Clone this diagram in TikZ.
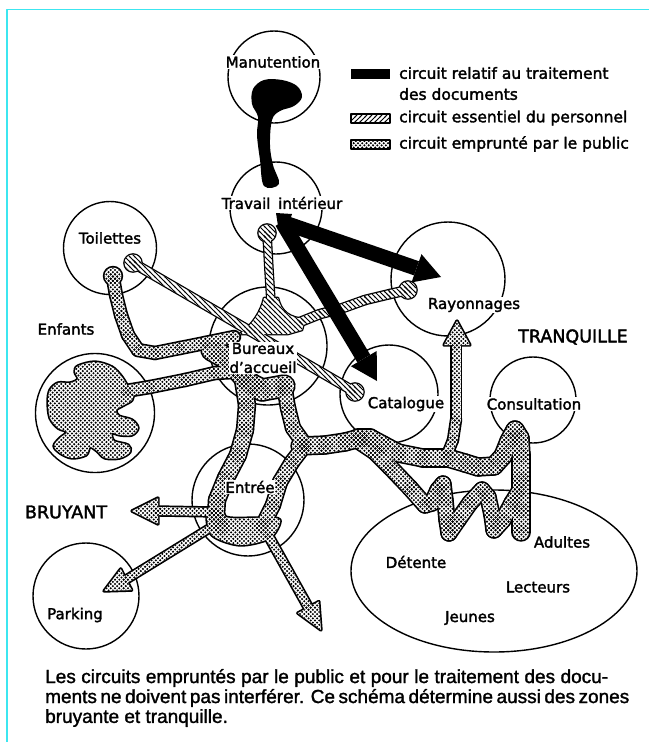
\documentclass[tikz,border=0pt]{standalone}
\usepackage{fontspec}
\setmainfont{DejaVu Sans}[FakeBold=2]
\newfontfamily\capfont{Liberation Sans}[FakeBold=1.5]
\usetikzlibrary{patterns,shapes.geometric,calc}
\definecolor{bordercol}{RGB}{60,230,240}

\pgfdeclarepatternformonly{pubdots}{\pgfqpoint{-1.3pt}{-1.3pt}}{\pgfqpoint{5.6pt}{5.6pt}}{\pgfqpoint{4.3pt}{4.3pt}}{%
 \pgfpathcircle{\pgfqpoint{1.075pt}{1.075pt}}{1.15pt}%
 \pgfpathcircle{\pgfqpoint{3.225pt}{3.225pt}}{1.15pt}%
 \pgfusepath{fill}}
\pgfdeclarepatternformonly{hatchNE}{\pgfqpoint{-1pt}{-1pt}}{\pgfqpoint{6pt}{6pt}}{\pgfqpoint{5pt}{5pt}}{%
 \pgfsetlinewidth{1pt}%
 \pgfpathmoveto{\pgfqpoint{-1pt}{-1pt}}\pgfpathlineto{\pgfqpoint{6pt}{6pt}}\pgfusepath{stroke}}
\pgfdeclarepatternformonly{hatchNW}{\pgfqpoint{-1pt}{-1pt}}{\pgfqpoint{6pt}{6pt}}{\pgfqpoint{5pt}{5pt}}{%
 \pgfsetlinewidth{0.9pt}%
 \pgfpathmoveto{\pgfqpoint{-1pt}{6pt}}\pgfpathlineto{\pgfqpoint{6pt}{-1pt}}\pgfusepath{stroke}}

\newcount\tubemode
\def\tubepattern{pubdots}
\def\outw{3.4pt}
% a tube of width #1 along polyline #2 (x/y list), drawn in pass \tubemode
\newcommand\tube[2]{%
 \pgfmathsetmacro\hw{#1/2}%
 \edef\hwd{\hw pt}%
 \foreach \x/\y [count=\i, remember=\x as \px (initially 0), remember=\y as \py (initially 0)] in {#2}{%
   \ifcase\tubemode
     \ifnum\i>1 \draw[line width=#1pt+\outw] (\px,\py) -- (\x,\y);\fi
   \or
     \ifnum\i>1 \draw[white, line width=#1pt] (\px,\py) -- (\x,\y);\fi
   \or
     \fill[pattern=\tubepattern] (\x,\y) circle[radius=\hwd];
     \ifnum\i>1 \fill[pattern=\tubepattern] ($(\px,\py)!\hwd!90:(\x,\y)$) -- ($(\px,\py)!\hwd!-90:(\x,\y)$) -- ($(\x,\y)!\hwd!90:(\px,\py)$) -- ($(\x,\y)!\hwd!-90:(\px,\py)$) -- cycle;\fi
   \fi}}
% a closed shape #1, drawn in pass \tubemode
\newcommand\blob[1]{%
 \ifcase\tubemode
  \draw[line width=\outw] #1;
 \or
  \fill[white] #1;
 \or
  \fill[pattern=\tubepattern] #1;
 \fi}

\newcommand\PubAll{%
 \tube{11}{113/278, 116/295, 121/315, 128/335, 138/350, 155/353, 180/348, 205/343, 234/337}
 \tube{11}{126/391, 150/387, 185/380, 215/373, 235/372}
 \tube{20}{212/350, 228/359, 240/372, 250/384, 262/390, 284/386}
 \tube{15}{243/380, 247/405, 245/430, 238/455, 226/478, 217/500, 216/515, 222/527}
 \tube{13}{284/385, 288/408, 293/428, 305/445}
 \tube{13}{305/445, 292/462, 280/482, 273/505, 262/527}
 \tube{16}{300/446, 325/445, 345/442, 360/438}
 \tube{16}{358/438, 370/438, 383/445, 398/453, 423/458, 448/458, 465/463, 478/467, 494/466, 503/456, 509/441, 515/430, 520/438, 521/455, 521/480, 521/510, 521/532}
 \tube{9}{447/455, 453/440, 456/420, 456/345}
 \tube{14}{360/442, 375/452, 390/467, 410/488, 425/505, 432/503, 438/490, 443/484, 445/500, 447/520, 449/533, 458/520, 470/503, 482/490, 488/497, 492/515, 494/530, 503/520, 512/503, 520/490}
 \tube{8}{215/512, 158/511}
 \tube{7}{210/528, 126.2/579.5}
 \tube{8}{268/535, 308.3/607.3}
 \blob{(113,276) circle[radius=8.5]}
 \blob{plot[smooth cycle, tension=0.55] coordinates {(78,366) (95,362) (112,367) (122,377) (127,385) (133,392) (132,400) (124,405) (116,410) (119,416) (132,420) (138,428) (132,435) (120,435) (112,433) (114,441) (128,445) (130,452) (120,458) (105,458) (97,451) (90,447) (86,455) (72,458) (60,453) (54,446) (60,438) (67,432) (58,428) (50,418) (48,402) (50,390) (58,383) (70,383) (78,379) (75,372)}}
 \blob{plot[smooth cycle] coordinates {(208,512) (230,518) (262,518) (280,520) (270,538) (240,545) (212,535)}}
 \blob{(158,498) -- (132,511) -- (158,524) -- cycle}
 \blob{(131.7,590.1) -- (104,591) -- (120.7,568.9) -- cycle}
 \blob{(297.8,613.1) -- (321,630) -- (318.8,601.5) -- cycle}
 \blob{(444,345) -- (457,321) -- (470,345) -- cycle}
}
\newcommand\StaffAll{%
 \tube{8}{133/263, 355/392}
 \tube{7}{267/234, 269/270, 271/302}
 \tube{8}{300/322, 320/314, 340/309, 365/300, 390/294, 408/290}
 \blob{(240,334) .. controls (252,325) and (261,312) .. (264,298) -- (278,298) .. controls (281,312) and (290,318) .. (305,319) -- (302,330) -- (288,334) -- cycle}
 \blob{(toiB) circle[radius=8.5]}
 \blob{(travB) circle[radius=8.5]}
 \blob{(rayB) circle[radius=8.5]}
 \blob{(catB) circle[radius=8.5]}
}

\begin{document}
\begin{tikzpicture}[x=1pt,y=-1pt, line join=round, line cap=round,
  zone/.style={circle, draw, line width=1.4pt, minimum size=#1, inner sep=0pt},
  lab/.style={font=\fontsize{15}{19}\selectfont, inner sep=1pt},
  wlab/.style={lab, fill=white},
  big/.style={font=\fontsize{17.5}{20}\selectfont, inner sep=1pt},
  leg/.style={font=\fontsize{15.5}{18}\selectfont, inner sep=0pt, anchor=west},
  captxt/.style={font=\capfont\fontsize{19}{20}\selectfont, inner sep=0pt, anchor=west}]
\useasboundingbox (0,0) rectangle (649,742);
\fill[white] (0,0) rectangle (649,742);
\draw[bordercol, line width=1.6pt, line cap=butt] (7,742) -- (7,9.5) -- (649,9.5);

% zones
\node[zone=92pt] (manZ) at (274,77) {};
\node[zone=92pt] (travZ) at (276,208) {};
\node[zone=93pt] (toiZ) at (110,248) {};
\node[zone=119pt] (enfZ) at (95,413) {};
\node[zone=118pt] (burZ) at (268,346) {};
\node[zone=114pt] (rayZ) at (448,279) {};
\node[zone=98pt] (catZ) at (389,394) {};
\node[zone=86pt] (conZ) at (533,400) {};
\node[zone=112pt] (entZ) at (248,500) {};
\node[zone=106pt] (parZ) at (86,596) {};
\node[ellipse, draw, line width=1.4pt, minimum width=286pt, minimum height=162pt, inner sep=0pt] (lecZ) at (494,571) {};

% labels
\node[wlab] (manL) at (273,62) {Manutention};
\node[wlab] (travL) at (282,203) {Travail\hspace{3pt} intérieur};
\node[lab] (toiL) at (110,238) {Toilettes};
\node[lab] (enfL) at (66,329) {Enfants};
\node[wlab] (rayL) at (474,305) {Rayonnages};
\node[big] (tranL) at (573,337) {TRANQUILLE};
\node[wlab] (catL) at (406,404) {Catalogue};
\node[wlab] (conL) at (534,404) {Consultation};
\node[big] (bruL) at (66,512) {BRUYANT};
\node[lab] (parL) at (75,615) {Parking};
\node[lab] (adL) at (562,542) {Adultes};
\node[lab] (detL) at (416,562) {Détente};
\node[lab] (lecL) at (538,587) {Lecteurs};
\node[lab] (jeuL) at (470,618) {Jeunes};

% ---------- public circuit ----------
\def\tubepattern{pubdots}\def\outw{3.4pt}
\tubemode=0 \PubAll
\tubemode=1 \PubAll
\tubemode=2 \PubAll

% ---------- staff circuit ----------
\coordinate (toiB) at (133,263);
\coordinate (travB) at (267,233);
\coordinate (rayB) at (408,290);
\coordinate (catB) at (355,392);
\def\tubepattern{hatchNW}\def\outw{2.6pt}
\tubemode=0 \StaffAll
\tubemode=1 \StaffAll
\tubemode=2 \StaffAll

% ---------- document circuit ----------
\fill plot[smooth cycle, tension=0.6] coordinates {(264,186) (260,160) (257,135) (258,117) (252,104) (253,89) (264,80) (282,80) (297,86) (302,97) (294,106) (280,111) (272,120) (270,145) (273,165) (279,184)};
\coordinate (root) at (282,222);
\draw[line width=15pt, line cap=butt] (root) -- (416.5,268.3);
\fill (441,277) -- (421.5,254.2) -- (411.5,282.4) -- cycle;
\draw[line width=15pt, line cap=butt] (root) -- (363.8,358.6);
\fill (377,381) -- (376.7,351) -- (350.9,366.2) -- cycle;
\fill (276,213) -- (292,214) -- (287,230) -- (278,226) -- cycle;

% labels on top
\node[wlab, align=center, inner sep=0.5pt] (burL) at (263,358) {Bureaux\\d’accueil};
\node[wlab, inner sep=0.5pt] (entL) at (250,487) {Entrée};

% ---------- legend ----------
\fill (351,69) rectangle (390,79);
\node[leg] (lg1) at (399,73) {circuit relatif au traitement};
\node[leg] (lg1b) at (399,94) {des documents};
\fill[white] (351,114) rectangle (390,123);
\fill[pattern=hatchNE] (351,114) rectangle (390,123);
\draw[line width=1.2pt] (351,114) rectangle (390,123);
\node[leg] (lg2) at (399,118) {circuit essentiel du personnel};
\fill[white] (351,140) rectangle (390,149);
\fill[pattern=pubdots] (351,140) rectangle (390,149);
\draw[line width=1.2pt] (351,140) rectangle (390,149);
\node[leg] (lg3) at (399,144) {circuit emprunté par le public};

% ---------- caption ----------
\node[captxt] (c1) at (45,678) {\makebox[563pt][s]{Les circuits empruntés par le public et pour le traitement des docu-}};
\node[captxt] (c2) at (45,698) {\makebox[563pt][s]{ments ne doivent pas interférer. Ce schéma détermine aussi des zones}};
\node[captxt] (c3) at (45,718) {bruyante et tranquille.};
\end{tikzpicture}
\end{document}
